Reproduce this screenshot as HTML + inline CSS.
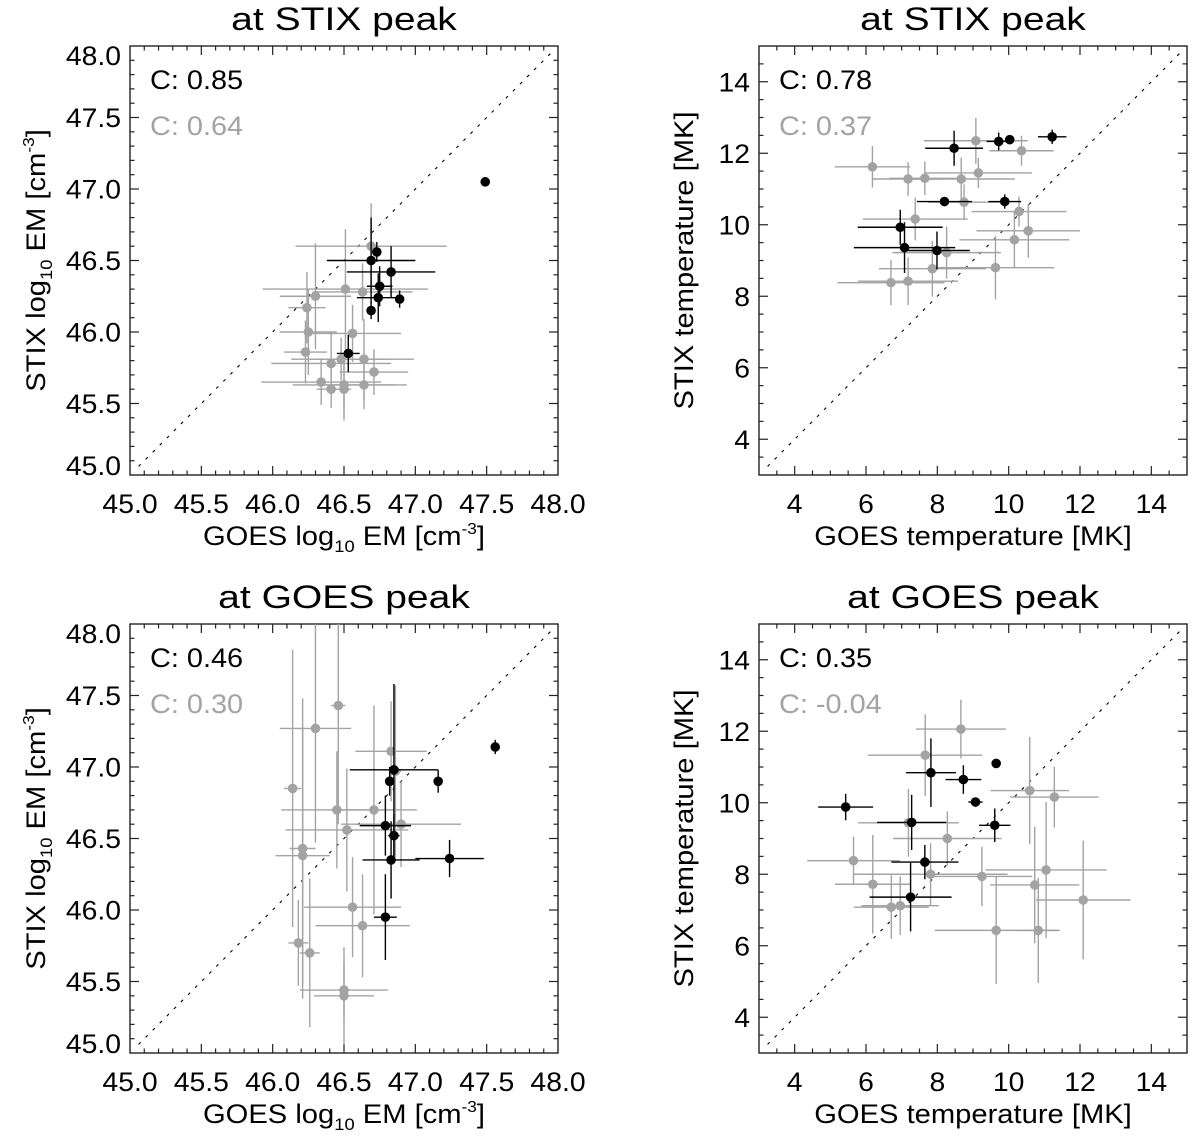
<!DOCTYPE html>
<html><head><meta charset="utf-8"><style>
html,body{margin:0;padding:0;background:#fff}
svg{display:block}
text{font-family:"Liberation Sans",Arial,sans-serif;font-size:27px}
</style></head><body>
<svg id="fig" width="1200" height="1139" viewBox="0 0 1200 1139" xmlns="http://www.w3.org/2000/svg"></svg>
<script>
// ---- Panel 1: EM at STIX peak ----
const p1BlackX=[47.49,46.73,46.69,46.83,46.75,46.74,46.89,46.69,46.53];
const p1BlackY=[47.05,46.56,46.50,46.42,46.32,46.24,46.23,46.15,45.85];
const p1BlackXErr=[0.02,0.03,0.31,0.31,0.09,0.15,0.03,0.03,0.08];
const p1BlackYErr=[0.03,0.07,0.30,0.18,0.14,0.17,0.06,0.06,0.13];
const p1GrayX=[46.69,46.51,46.30,46.63,46.24,46.25,46.56,46.23,46.41,46.48,46.64,46.71,46.34,46.41,46.50,46.50,46.64];
const p1GrayY=[46.60,46.30,46.25,46.28,46.17,46.00,45.99,45.86,45.78,45.81,45.81,45.72,45.65,45.60,45.63,45.60,45.63];
const p1GrayXErr=[0.53,0.58,0.25,0.35,0.13,0.20,0.34,0.15,0.42,0.35,0.35,0.24,0.42,0.10,0.36,0.05,0.30];
const p1GrayYErr=[0.30,0.42,0.37,0.20,0.25,0.30,0.20,0.22,0.22,0.15,0.28,0.16,0.16,0.13,0.20,0.22,0.17];
// ---- Panel 2: temperature at STIX peak ----
const p2BlackX=[11.22,10.03,9.72,8.47,8.20,9.89,6.96,7.08,7.99];
const p2BlackY=[12.46,12.38,12.33,12.14,10.65,10.65,9.93,9.36,9.28];
const p2BlackXErr=[0.40,0.10,0.34,0.81,0.77,0.46,1.19,1.42,0.92];
const p2BlackYErr=[0.20,0.12,0.25,0.49,0.12,0.20,0.49,0.71,0.53];
const p2GrayX=[6.18,7.18,7.65,8.67,9.08,9.15,10.36,8.75,7.38,10.29,10.55,10.16,8.26,7.86,9.63,6.70,7.18];
const p2GrayY=[11.62,11.28,11.30,11.28,12.35,11.45,12.07,10.63,10.16,10.37,9.83,9.58,9.22,8.77,8.80,8.38,8.42];
const p2GrayXErr=[1.06,1.00,1.00,1.50,1.45,1.50,0.90,1.00,1.47,1.33,1.45,1.54,1.52,1.50,1.65,1.50,1.40];
const p2GrayYErr=[0.58,0.47,0.47,0.60,0.64,0.42,0.42,0.50,0.60,0.42,0.75,0.80,0.73,0.78,0.89,0.63,0.67];
// ---- Panel 3: EM at GOES peak ----
const p3BlackX=[47.56,47.16,46.85,46.82,46.79,46.85,46.83,47.24,46.79];
const p3BlackY=[47.14,46.90,46.98,46.90,46.59,46.52,46.35,46.36,45.95];
const p3BlackXErr=[0.02,0.02,0.31,0.03,0.18,0.04,0.20,0.24,0.08];
const p3BlackYErr=[0.05,0.08,0.60,0.10,0.21,0.15,0.27,0.13,0.30];
const p3GrayX=[46.46,46.30,46.14,46.83,46.86,46.45,46.71,46.52,46.90,46.21,46.21,46.56,46.63,46.18,46.26,46.50,46.50];
const p3GrayY=[47.43,47.27,46.85,47.11,46.97,46.70,46.70,46.56,46.60,46.43,46.38,46.02,45.89,45.77,45.70,45.44,45.40];
const p3GrayXErr=[0.05,0.25,0.06,0.25,0.04,0.39,0.30,0.43,0.42,0.09,0.19,0.34,0.33,0.07,0.07,0.31,0.21];
const p3GrayYErr=[0.83,0.80,0.97,0.35,0.60,0.41,0.73,0.43,0.30,1.05,0.90,0.35,0.36,0.30,0.52,0.20,0.34];
// ---- Panel 4: temperature at GOES peak ----
const p4BlackX=[5.43,7.82,8.73,9.65,9.07,9.61,7.28,7.65,7.25];
const p4BlackY=[9.88,10.84,10.65,11.10,10.02,9.37,9.45,8.34,7.36];
const p4BlackXErr=[0.77,0.70,0.50,0.05,0.20,0.44,0.97,0.94,1.15];
const p4BlackYErr=[0.37,0.96,0.40,0.10,0.10,0.47,0.77,0.48,0.96];
const p4GrayX=[8.66,7.66,10.59,11.28,7.19,8.28,5.65,6.19,7.81,9.25,6.71,6.96,11.05,10.73,12.09,9.65,10.83];
const p4GrayY=[12.06,11.33,10.34,10.16,9.44,9.00,8.38,7.72,8.00,7.94,7.08,7.12,8.12,7.70,7.28,6.43,6.43];
const p4GrayXErr=[1.26,1.60,1.10,1.24,1.41,1.52,1.30,1.06,2.16,1.41,1.05,1.09,1.70,1.25,1.32,1.72,0.60];
const p4GrayYErr=[0.82,1.14,1.50,0.85,0.95,0.76,0.67,1.38,0.87,0.83,0.89,0.82,1.90,1.63,1.66,1.50,1.47];
// ---- axis ticks and labels ----
const emTicks=[45.0,45.5,46.0,46.5,47.0,47.5,48.0];
const emTickLabels=["45.0","45.5","46.0","46.5","47.0","47.5","48.0"];
const tTicks=[4,6,8,10,12,14];
const tTickLabels=["4","6","8","10","12","14"];
const corrBlack=["C: 0.85","C: 0.78","C: 0.46","C: 0.35"];
const corrGray=["C: 0.64","C: 0.37","C: 0.30","C: -0.04"];
const titles=["at STIX peak","at STIX peak","at GOES peak","at GOES peak"];

const NS="http://www.w3.org/2000/svg";
const svg=document.getElementById('fig');
function mk(tag,attrs,parent){const e=document.createElementNS(NS,tag);for(const k in attrs)e.setAttribute(k,attrs[k]);(parent||svg).appendChild(e);return e;}
function txt(parent,x,y,s,anchor,sx,color,size,name){
  const t=mk('text',{transform:`translate(${x},${y}) scale(${sx},1)`,'text-anchor':anchor},parent);
  
  
  t.style.fill=color||'#000';
  if(size)t.style.fontSize=size;
  t.textContent=s;return t;
}
const GRAY='#a3a3a3';
const defs=mk('defs',{});
const panels=[
 {L:130,T:46,type:'em',bx:p1BlackX,by:p1BlackY,bxe:p1BlackXErr,bye:p1BlackYErr,gx:p1GrayX,gy:p1GrayY,gxe:p1GrayXErr,gye:p1GrayYErr},
 {L:759,T:46,type:'t',bx:p2BlackX,by:p2BlackY,bxe:p2BlackXErr,bye:p2BlackYErr,gx:p2GrayX,gy:p2GrayY,gxe:p2GrayXErr,gye:p2GrayYErr},
 {L:130,T:624,type:'em',bx:p3BlackX,by:p3BlackY,bxe:p3BlackXErr,bye:p3BlackYErr,gx:p3GrayX,gy:p3GrayY,gxe:p3GrayXErr,gye:p3GrayYErr},
 {L:759,T:624,type:'t',bx:p4BlackX,by:p4BlackY,bxe:p4BlackXErr,bye:p4BlackYErr,gx:p4GrayX,gy:p4GrayY,gxe:p4GrayXErr,gye:p4GrayYErr}
];
const W=428,H=429;
panels.forEach((p,i)=>{
  const g=mk('g',{});
  
  
  const cp=mk('clipPath',{id:'clip'+i},defs);
  mk('rect',{x:p.L,y:p.T,width:W,height:H},cp);
  const em=p.type==='em';
  const lo=em?45:3, hi=em?48:15, minor=em?0.1:0.5;
  const sx=v=>p.L+(v-lo)/(hi-lo)*W;
  const sy=v=>p.T+H-(v-lo)/(hi-lo)*H;
  const R=p.L+W,B=p.T+H;
  txt(g,p.L+W/2,p.T-16,titles[i],'middle',1.22,null,'32px','panel-title');
  const d=mk('line',{x1:sx(lo+0.06*(hi-lo)/3),y1:sy(lo+0.06*(hi-lo)/3),x2:sx(hi-0.02*(hi-lo)/3),y2:sy(hi-0.02*(hi-lo)/3),stroke:'#000','stroke-width':1.1,'stroke-dasharray':'3 7'},g);
  
  
  const nMin=Math.round((hi-lo)/minor);
  for(let k=1;k<nMin;k++){
    const v=lo+k*minor;
    const major=em?(Math.abs((v*2)-Math.round(v*2))<1e-6):(Math.abs(v/2-Math.round(v/2))<1e-6);
    const len=major?9:4.5;
    mk('line',{x1:sx(v),y1:B,x2:sx(v),y2:B-len,stroke:'#222','stroke-width':1.2},g);
    mk('line',{x1:sx(v),y1:p.T,x2:sx(v),y2:p.T+len,stroke:'#222','stroke-width':1.2},g);
    mk('line',{x1:p.L,y1:sy(v),x2:p.L+len,y2:sy(v),stroke:'#222','stroke-width':1.2},g);
    mk('line',{x1:R,y1:sy(v),x2:R-len,y2:sy(v),stroke:'#222','stroke-width':1.2},g);
  }
  const frame=mk('rect',{x:p.L,y:p.T,width:W,height:H,fill:'none',stroke:'#222','stroke-width':1.4},g);
  
  
  const ticks=em?emTicks:tTicks, labs=em?emTickLabels:tTickLabels;
  ticks.forEach((v,k)=>{
    txt(g,sx(v),B+38,labs[k],'middle',1.05,null,null,'x-tick-label');
    let yy=sy(v)+9.5;
    if(yy<p.T+19)yy=p.T+19; if(yy>B)yy=B;
    txt(g,p.L-9,yy,labs[k],'end',1.05,null,null,'y-tick-label');
  });
  const xt=mk('text',{transform:`translate(${p.L+W/2},${B+70}) scale(1.08,1)`,'text-anchor':'middle'},g);
  
  
  const ytG=mk('g',{transform:`translate(${em?45:693},${p.T+H/2}) rotate(-90) scale(1.08,1)`},g);
  const yt=mk('text',{'text-anchor':'middle'},ytG);
  
  
  if(em){
    xt.innerHTML='GOES log<tspan style="font-size:17px" dy="7">10</tspan><tspan dy="-7"> EM [cm</tspan><tspan style="font-size:16px" dy="-11">-3</tspan><tspan dy="11">]</tspan>';
    yt.innerHTML='STIX log<tspan style="font-size:17px" dy="7">10</tspan><tspan dy="-7"> EM [cm</tspan><tspan style="font-size:16px" dy="-11">-3</tspan><tspan dy="11">]</tspan>';
  } else {
    xt.textContent='GOES temperature [MK]';
    yt.textContent='STIX temperature [MK]';
  }
  txt(g,p.L+20,p.T+43,corrBlack[i],'start',1.07,null,null,'correlation-black');
  txt(g,p.L+20,p.T+89,corrGray[i],'start',1.07,GRAY,null,'correlation-gray');
  function series(X,Y,XE,YE,col,name){
    const sg=mk('g',{'clip-path':`url(#clip${i})`},g);
    
    
    X.forEach((x,k)=>{
      const y=Y[k];
      mk('line',{x1:sx(x-XE[k]),y1:sy(y),x2:sx(x+XE[k]),y2:sy(y),stroke:col,'stroke-width':1.4},sg);
      mk('line',{x1:sx(x),y1:sy(y-YE[k]),x2:sx(x),y2:sy(y+YE[k]),stroke:col,'stroke-width':1.4},sg);
      const c=mk('circle',{cx:sx(x),cy:sy(y),r:4.8,fill:col},sg);
      
      
    });
  }
  series(p.gx,p.gy,p.gxe,p.gye,GRAY,'gray-series');
  series(p.bx,p.by,p.bxe,p.bye,'#000','black-series');
});
</script>
</body></html>
